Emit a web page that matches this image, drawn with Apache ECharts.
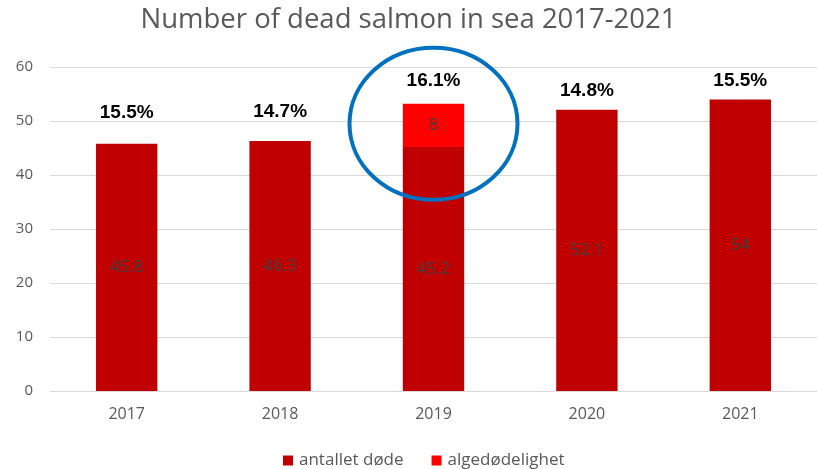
<!DOCTYPE html>
<html>
<head>
<meta charset="utf-8">
<script src="https://cdn.jsdelivr.net/npm/echarts@6/dist/echarts.min.js"></script>
<style>
  html, body { margin: 0; padding: 0; background: #fff; }
  #chart { width: 817px; height: 469px; }
</style>
</head>
<body>
<div id="chart"></div>
<script>
// Dead salmon in sea, per year (millions)
const years = ['2017', '2018', '2019', '2020', '2021'];
const deadCount = [45.8, 46.3, 45.2, 52.1, 54];
const algaeDeaths = [null, null, 8, null, null];
const mortalityPct = ['15.5%', '14.7%', '16.1%', '14.8%', '15.5%'];
const yTicks = [0, 10, 20, 30, 40, 50, 60];

// gap (px) between each bar top and its percentage label
const pctGap = [21, 20, 13, 9, 9];

const chart = echarts.init(document.getElementById('chart'));

const insideLabel = {
  show: true,
  position: 'inside',
  color: '#404040',
  fontFamily: 'Open Sans',
  fontSize: 17,
  textBorderWidth: 0
};

const option = {
  animation: false,
  title: {
    text: 'Number of dead salmon in sea 2017-2021',
    left: 'center',
    top: 1,
    textStyle: { fontFamily: 'Open Sans', fontSize: 27.5, fontWeight: 'normal', color: '#595959' }
  },
  legend: {
    data: ['antallet døde', 'algedødelighet'],
    bottom: -5,
    left: 278,
    itemWidth: 10,
    itemHeight: 10,
    itemGap: 28,
    icon: 'rect',
    textStyle: { fontFamily: 'Open Sans', fontSize: 17, color: '#595959', padding: [0, 0, 0, 1] }
  },
  grid: { left: 50, top: 67, width: 771, height: 324, containLabel: false },
  xAxis: {
    type: 'category',
    data: years,
    axisTick: { show: false },
    axisLine: { lineStyle: { color: '#D9D9D9', width: 1 } },
    axisLabel: { color: '#595959', fontFamily: 'Open Sans', fontSize: 16, margin: 15 }
  },
  yAxis: {
    type: 'value',
    min: yTicks[0],
    max: yTicks[yTicks.length - 1],
    interval: yTicks[1] - yTicks[0],
    axisLine: { show: false },
    axisTick: { show: false },
    splitLine: { lineStyle: { color: '#D9D9D9', width: 1 } },
    axisLabel: { color: '#595959', fontFamily: 'Open Sans', fontSize: 15, margin: 17 }
  },
  series: [
    {
      name: 'antallet døde',
      type: 'bar',
      stack: 'total',
      data: deadCount,
      barCategoryGap: '60%',
      itemStyle: { color: '#C00000' },
      label: insideLabel
    },
    {
      name: 'algedødelighet',
      type: 'bar',
      stack: 'total',
      data: algaeDeaths,
      itemStyle: { color: '#FF0000' },
      label: insideLabel
    },
    {
      name: 'andel',
      type: 'bar',
      stack: 'total',
      data: years.map((y, i) => ({
        value: 0,
        label: { distance: pctGap[i] }
      })),
      itemStyle: { color: 'transparent' },
      label: {
        show: true,
        position: 'top',
        formatter: p => mortalityPct[p.dataIndex],
        color: '#000',
        fontFamily: 'Liberation Sans',
        fontWeight: 'bold',
        fontSize: 19
      }
    }
  ]
};

chart.setOption(option);

// Highlight ring around the 2019 bar
const ringCenter = chart.convertToPixel({ gridIndex: 0 }, [years[2], 49.5]);
chart.setOption({
  graphic: [{
    type: 'ellipse',
    shape: { cx: ringCenter[0], cy: ringCenter[1], rx: 84, ry: 76 },
    style: { fill: 'none', stroke: '#0070C0', lineWidth: 4 },
    z: 100
  }]
});
</script>
</body>
</html>
